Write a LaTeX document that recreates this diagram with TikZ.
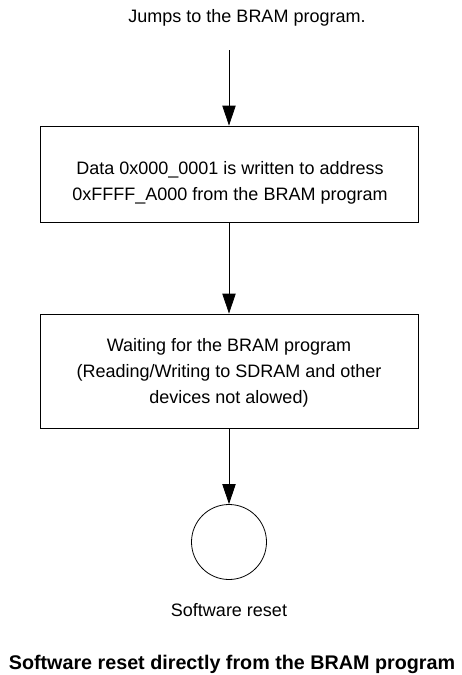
\documentclass[tikz,border=0pt]{standalone}
\usepackage{fontspec}
\setmainfont{Liberation Sans}
\usetikzlibrary{arrows.meta}
\begin{document}
\begin{tikzpicture}[x=0.75pt,y=-0.75pt,
  box/.style={draw,line width=0.6pt,minimum width=378*0.75pt,inner sep=0pt},
  lbl/.style={font=\fontsize{13.5}{19.5}\selectfont,inner sep=0pt,align=center},
  conn/.style={-{Triangle[length=15pt,width=10pt]},line width=0.6pt}]
\useasboundingbox (0,0) rectangle (461,675);
\node[lbl] (top) at (247,18) {Jumps to the BRAM program.};
\coordinate (start) at (229,50);
\node[box,minimum height=96*0.75pt] (b1) at (229,174) {};
\node[lbl] (t1) at (230,183) {Data 0x000\_0001 is written to address\\0xFFFF\_A000 from the BRAM program};
\node[box,minimum height=114*0.75pt] (b2) at (229,371) {};
\node[lbl] (t2) at (229,373) {Waiting for the BRAM program\\(Reading/Writing to SDRAM and other\\devices not alowed)};
\node[draw,circle,line width=0.6pt,minimum size=75*0.75pt,inner sep=0pt] (c) at (229,542) {};
\node[lbl] (sr) at (229,610) {Software reset};
\node[lbl,font=\fontsize{14.8}{15}\selectfont\bfseries] (cap) at (232,664) {Software reset directly from the BRAM program};
\draw[conn] (start) -- (b1.north);
\draw[conn] (b1.south) -- (b2.north);
\draw[conn] (b2.south) -- (c.north);
\end{tikzpicture}
\end{document}
